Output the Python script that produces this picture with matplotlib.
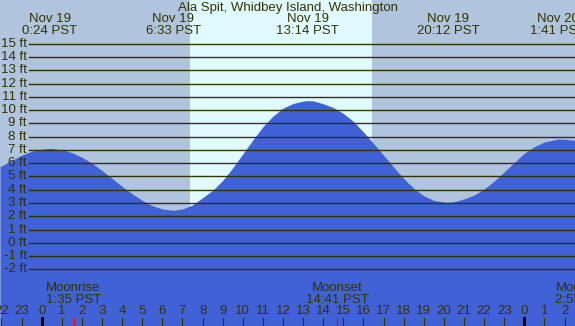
import matplotlib.pyplot as plt

# tide heights (hours from midnight Nov 19, feet)
hours = [-2.07, -1.5, -1, -0.5, 0, 0.4, 1, 1.5, 2, 2.5, 3, 3.5, 4, 4.5, 5, 5.5, 6, 6.55,
         7, 7.5, 8, 8.5, 9, 9.5, 10, 10.5, 11, 11.5, 12, 12.5, 13, 13.23, 13.5,
         14, 14.5, 15, 15.5, 16, 16.5, 17, 17.5, 18, 18.5, 19, 19.5, 20, 20.2, 20.5,
         21, 21.5, 22, 22.5, 23, 23.5, 24, 24.5, 25, 25.68, 26, 26.52]
heights = [5.75, 6.2, 6.6, 6.9, 7.05, 7.12, 7.02, 6.8, 6.45, 6.0, 5.45, 4.85, 4.25, 3.7, 3.2, 2.8, 2.55, 2.45,
           2.55, 2.85, 3.4, 3.95, 4.7, 5.65, 6.7, 7.75, 8.75, 9.55, 10.15, 10.5, 10.68, 10.72, 10.7,
           10.48, 10.2, 9.75, 9.15, 8.35, 7.5, 6.6, 5.7, 4.85, 4.1, 3.55, 3.2, 3.07, 3.05, 3.1,
           3.3, 3.6, 4.05, 4.65, 5.35, 6.05, 6.75, 7.25, 7.6, 7.82, 7.8, 7.72]

# high / low tide labels
event_days = ['Nov 19', 'Nov 19', 'Nov 19', 'Nov 19', 'Nov 20']
event_times = ['0:24 PST', '6:33 PST', '13:14 PST', '20:12 PST', '1:41 PST']
event_hours = [0.4, 6.55, 13.233, 20.2, 25.683]

# moon rise / set
moon_names = ['Moonrise', 'Moonset', 'Moonrise']
moon_times = ['1:35 PST', '14:41 PST', '2:55 PST']
moon_hours = [1.583, 14.683, 26.917]

sunrise, sunset = 7.375, 16.43
ft_levels = list(range(-2, 16))
hour_ticks = list(range(-2, 27))

title = 'Ala Spit, Whidbey Island, Washington'

night = '#b0c4de'
day = '#e0fbff'
water = '#4162d6'
ink = '#333300'

fig = plt.figure(figsize=(5.75, 3.26), dpi=100)
ax = fig.add_axes([0, 0, 1, 1])
ax.set_xlim(-2.074, 26.52)
ax.set_ylim(-6.27, 18.30)
ax.set_facecolor(night)
for s in ax.spines.values():
    s.set_visible(False)
ax.set_xticks([])
ax.set_yticks([])

plt.rcParams['font.family'] = ['Liberation Sans', 'DejaVu Sans']
fs = 9.5

ax.axvspan(sunrise, sunset, color=day, lw=0, zorder=0)
ax.fill_between(hours, heights, -10, color=water, lw=0, zorder=1)

# horizontal ft lines and labels
ytr = ax.get_yaxis_transform()
for v in ft_levels:
    ax.axhline(v, xmin=29.3 / 575, xmax=1, color=ink, lw=1.0, zorder=2)
    ax.text(26.7 / 575, v, f'{v} ft', transform=ytr, ha='right', va='center',
            fontsize=fs, color=ink)

xtr = ax.get_xaxis_transform()
ax.text(0.5, 1 - 7.5 / 326, title, transform=ax.transAxes, ha='center', va='center',
        fontsize=fs, color=ink)
for d, t, h in zip(event_days, event_times, event_hours):
    ax.text(h, 1 - 19.5 / 326, d, transform=xtr, ha='center', va='center', fontsize=fs, color=ink)
    ax.text(h, 1 - 31 / 326, t, transform=xtr, ha='center', va='center', fontsize=fs, color=ink)

for n, t, h in zip(moon_names, moon_times, moon_hours):
    ax.text(h, 1 - 288.3 / 326, n, transform=xtr, ha='center', va='center', fontsize=fs, color=ink)
    ax.text(h, 1 - 299.7 / 326, t, transform=xtr, ha='center', va='center', fontsize=fs, color=ink)
    ax.axvline(h, ymin=0, ymax=8 / 326, color='red', lw=0.8, zorder=3)

# hour ticks
for h in hour_ticks:
    ax.text(h, 1 - 311 / 326, str(h % 24), transform=xtr, ha='center', va='center',
            fontsize=fs, color=ink)
    if h % 24 == 0:
        ax.axvline(h, ymin=0, ymax=8 / 326, color='black', lw=2.2, zorder=3)
    else:
        ax.axvline(h, ymin=0, ymax=8 / 326, color=ink, lw=0.8, zorder=3)

fig.savefig('out.png', dpi=100)
plt.close(fig)
